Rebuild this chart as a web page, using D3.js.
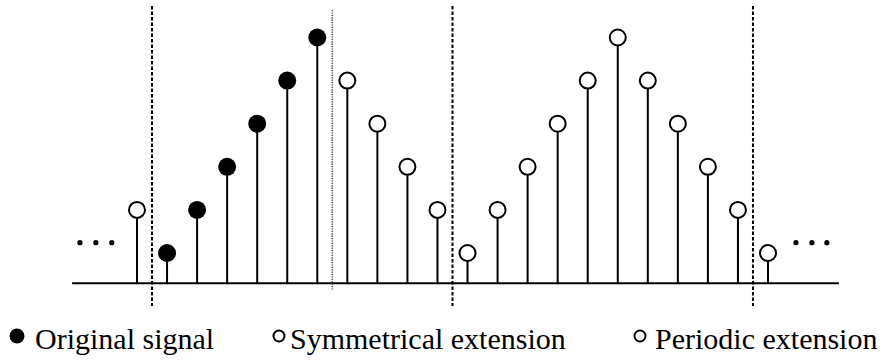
<!DOCTYPE html>
<html>
<head>
<meta charset="utf-8">
<script src="https://cdn.jsdelivr.net/npm/d3@7"></script>
<style>
  html, body { margin: 0; padding: 0; background: #fff; }
  svg { display: block; }
</style>
</head>
<body>
<svg id="chart" width="886" height="362"></svg>
<script>
// ---- data ----
const sampleIndex = [-1, 0, 1, 2, 3, 4, 5, 6, 7, 8, 9, 10, 11, 12, 13, 14, 15, 16, 17, 18, 19, 20];
const sampleValue = [2, 1, 2, 3, 4, 5, 6, 5, 4, 3, 2, 1, 2, 3, 4, 5, 6, 5, 4, 3, 2, 1];
const sampleKind  = ["ext", "orig", "orig", "orig", "orig", "orig", "orig",
                     "ext", "ext", "ext", "ext", "ext", "ext", "ext", "ext", "ext",
                     "ext", "ext", "ext", "ext", "ext", "ext"];
const boundaryIndex = [-0.5, 5.5, 9.5, 19.5];
const boundaryStyle = ["dash", "dot", "dash", "dash"];
const ellipsisLeft  = [-2.9, -2.37, -1.84];
const ellipsisRight = [20.93, 21.46, 21.96];
const ellipsisLevel = 1.24;
const baseLevel = 0.3;
const axisRange = [-3.16, 22.36];
const legendLabels = ["Original signal", "Symmetrical extension", "Periodic extension"];
const legendKinds  = ["orig", "ext", "ext"];

// ---- scales ----
const svg = d3.select("#chart");
const x = d3.scaleLinear().domain([-1, 20]).range([137, 768]);
const y = d3.scaleLinear().domain([1, 6]).range([253, 37.5]);

const samples = sampleIndex.map((n, i) => ({ n, v: sampleValue[i], kind: sampleKind[i] }));

// baseline
svg.append("line")
  .attr("x1", x(axisRange[0])).attr("x2", x(axisRange[1]))
  .attr("y1", y(baseLevel)).attr("y2", y(baseLevel))
  .attr("stroke", "#000").attr("stroke-width", 2);

// boundaries
svg.selectAll("line.bound").data(boundaryIndex).join("line")
  .attr("class", "bound")
  .attr("x1", d => x(d)).attr("x2", d => x(d))
  .attr("y1", (d, i) => boundaryStyle[i] === "dot" ? 10 : 6)
  .attr("y2", (d, i) => boundaryStyle[i] === "dot" ? 290 : 306)
  .attr("stroke", (d, i) => boundaryStyle[i] === "dot" ? "#444" : "#000")
  .attr("stroke-width", (d, i) => boundaryStyle[i] === "dot" ? 1.5 : 2)
  .attr("stroke-dasharray", (d, i) => boundaryStyle[i] === "dot" ? "1.2,1.2" : "3.5,2");

const R = 8.5;
// stems
svg.selectAll("line.stem").data(samples).join("line")
  .attr("class", "stem")
  .attr("x1", d => x(d.n)).attr("x2", d => x(d.n))
  .attr("y1", y(baseLevel)).attr("y2", d => y(d.v) + R)
  .attr("stroke", "#000").attr("stroke-width", 2);

// markers
svg.selectAll("circle.mk").data(samples).join("circle")
  .attr("class", "mk")
  .attr("cx", d => x(d.n)).attr("cy", d => y(d.v))
  .attr("r", d => d.kind === "orig" ? R + 0.5 : R - 0.5)
  .attr("fill", d => d.kind === "orig" ? "#000" : "#fff")
  .attr("stroke", "#000")
  .attr("stroke-width", d => d.kind === "orig" ? 0 : 2);

// ellipsis dots
svg.selectAll("circle.dot").data(ellipsisLeft.concat(ellipsisRight)).join("circle")
  .attr("class", "dot")
  .attr("cx", d => x(d)).attr("cy", y(ellipsisLevel))
  .attr("r", 2.6).attr("fill", "#000");

// legend
const legendX = [17, 279, 640];
const legendTextX = [35, 290, 655];
const lg = svg.selectAll("g.lg").data(legendLabels).join("g").attr("class", "lg");
lg.append("circle")
  .attr("cx", (d, i) => legendX[i]).attr("cy", 336)
  .attr("r", (d, i) => legendKinds[i] === "orig" ? 7.5 : 5.5)
  .attr("fill", (d, i) => legendKinds[i] === "orig" ? "#000" : "#fff")
  .attr("stroke", "#000")
  .attr("stroke-width", (d, i) => legendKinds[i] === "orig" ? 0 : 2);
lg.append("text")
  .attr("x", (d, i) => legendTextX[i]).attr("y", 349)
  .attr("font-family", "'Liberation Serif', 'Times New Roman', serif")
  .attr("font-size", 30)
  .attr("fill", "#000")
  .text(d => d);
</script>
</body>
</html>
